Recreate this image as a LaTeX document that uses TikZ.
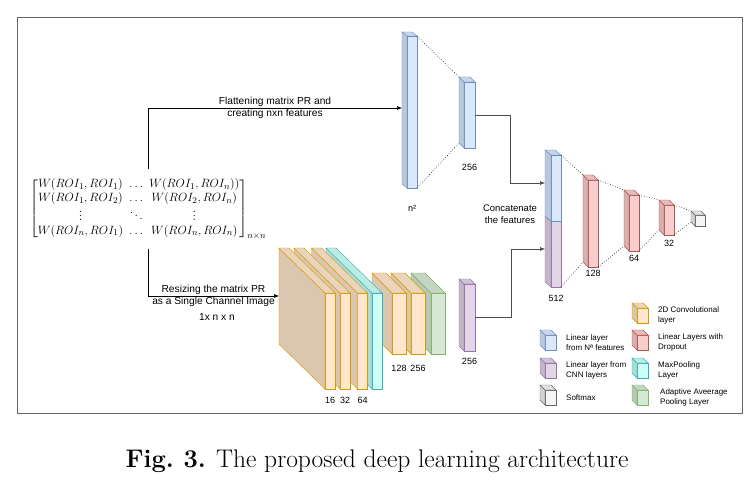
\documentclass[tikz,border=0pt]{standalone}
\usepackage{amsmath}
\usepackage{fontspec}
\usepackage{tikz}
\usetikzlibrary{positioning,arrows.meta}
\newfontfamily\drawfont{Liberation Sans}

\definecolor{convF}{HTML}{FFE6CC}
\definecolor{convD}{HTML}{D79B00}
\definecolor{poolF}{HTML}{CCFFF5}
\definecolor{poolD}{HTML}{2FB3C0}
\definecolor{blueF}{HTML}{DAE8FC}
\definecolor{blueD}{HTML}{6C8EBF}
\definecolor{purpF}{HTML}{E1D5E7}
\definecolor{purpD}{HTML}{9673A6}
\definecolor{redF}{HTML}{F8CECC}
\definecolor{redD}{HTML}{B85450}
\definecolor{greenF}{HTML}{D5E8D4}
\definecolor{greenD}{HTML}{82B366}
\definecolor{grayF}{HTML}{F5F5F5}
\definecolor{grayD}{HTML}{666666}

% \layercube{name}{x}{y}{width}{height}{depth x}{depth y}{colour}
\newcommand{\layercube}[8]{%
  \node[facebox, draw=#8D, fill=#8F, minimum width=#4pt, minimum height=#5pt] (#1) at (#2,#3) {};
  \filldraw[draw=#8D, fill=#8F!86!black] (#1.north west) -- ++(-#6,-#7) -- ++(0,#5) -- (#1.south west) -- cycle;
  \filldraw[draw=#8D, fill=#8F!92!black] (#1.north west) -- ++(-#6,-#7) -- ++(#4,0) -- (#1.north east) -- cycle;
  \path (#1.west) ++(-#6,-#7) coordinate (#1-bw);
  \path (#1.north west) ++(-#6,-#7) coordinate (#1-btl);
  \path (#1.south west) ++(-#6,-#7) coordinate (#1-bbl);
}

\begin{document}
\begin{tikzpicture}[x=1pt, y=-1pt,
    facebox/.style={rectangle, inner sep=0pt, outer sep=0pt, line width=0.6pt},
    lbl/.style={font=\drawfont\fontsize{9.5}{11.5}\selectfont, inner sep=1pt},
    arrlbl/.style={font=\drawfont\fontsize{10.2}{11.5}\selectfont, inner sep=1pt, align=center},
    numlbl/.style={font=\drawfont\fontsize{9}{11}\selectfont, inner sep=1pt, text height=6.5pt, text depth=0pt},
    legtext/.style={font=\drawfont\fontsize{8}{10}\selectfont, align=left, inner sep=1pt},
    mainarrow/.style={-{Latex[length=5pt,width=4pt]}, line width=0.6pt, black},
    pathline/.style={-{Latex[length=5pt,width=4pt]}, line width=0.6pt, black!70},
    dotline/.style={dotted, line width=0.6pt},
    outerbox/.style={draw=black!60, line width=0.8pt}]
    \useasboundingbox (0,0) rectangle (754,481);
    \draw[outerbox] (17,17) rectangle (742,413);

    % input matrix
    \node[font=\fontsize{12.5}{13.5}\selectfont, inner sep=9pt] (mat) at (148,209) {\setlength{\arraycolsep}{3pt}$\begin{bmatrix}
        W(ROI_1,ROI_1) & \ldots & W(ROI_1,ROI_n)) \\
        W(ROI_1,ROI_2) & \ldots & W(ROI_2,ROI_n) \\
        \vdots & \ddots & \vdots \\
        W(ROI_n,ROI_1) & \ldots & W(ROI_n,ROI_n)
      \end{bmatrix}_{n\times n}$};

    % flattened branch
    \layercube{sq}{412}{112}{10}{152}{5}{4}{blue}
    \layercube{fcA}{469.5}{115}{11}{66}{5}{5}{blue}

    % convolutional branch
    \layercube{gap}{438}{323.5}{14}{61}{20}{20}{green}
    \layercube{c256}{418}{323.5}{14}{61}{20}{20}{conv}
    \layercube{c128}{399}{323.5}{14}{61}{20}{20}{conv}
    \layercube{pool}{377}{341}{10}{96}{46}{45}{pool}
    \layercube{c64}{362.5}{341}{10}{96}{46}{45}{conv}
    \layercube{c32}{345}{341}{10}{96}{46}{45}{conv}
    \layercube{c16}{330}{341}{10}{96}{46}{45}{conv}
    \layercube{fcB}{469.5}{317.5}{11}{67}{5}{5}{purp}

    % concatenation and classifier
    \layercube{catB}{556}{254}{10}{66}{6}{5}{purp}
    \layercube{catA}{556}{188}{10}{66}{6}{5}{blue}
    \layercube{red1}{593}{223.5}{10}{87}{5}{5}{red}
    \layercube{red2}{634}{223}{10}{56}{5}{5}{red}
    \layercube{red3}{669}{220}{10}{30}{5}{5}{red}
    \layercube{soft}{700}{220.5}{10}{11}{4}{4}{gray}

    \draw[dotline] (sq.north east) -- (fcA-btl);
    \draw[dotline] (sq.south east) -- (fcA-bbl);
    \draw[dotline] (catA.north east) -- (red1-btl);
    \draw[dotline] (catB.south east) -- (red1-bbl);
    \draw[dotline] (red1.north east) -- (red2-btl);
    \draw[dotline] (red1.south east) -- (red2-bbl);
    \draw[dotline] (red2.north east) -- (red3-btl);
    \draw[dotline] (red2.south east) -- (red3-bbl);
    \draw[dotline] (red3.north east) -- (soft-btl);
    \draw[dotline] (red3.south east) -- (soft-bbl);

    \draw[mainarrow] (mat.north) |- node[arrlbl, pos=0.75] {Flattening matrix PR and\\creating nxn features} (sq-bw);
    \draw[mainarrow] (mat.south) |- node[arrlbl, pos=0.75] {Resizing the matrix PR\\as a Single Channel Image} (c16-bw);
    \draw[pathline] (fcA.east) -- ++(35,0) |- (catA-bw);
    \draw[pathline] (fcB.east) -- ++(36,0) |- (catB-bw);

    \node[arrlbl] (sizelbl) at (217,317) {1x n x n};
    \node[lbl, align=center] (catlbl) at (510,214) {Concatenate\\the features};

    \node[numlbl, below=16pt of sq] (sqnum) {n²};
    \node[numlbl, below=15pt of fcA] (fcAnum) {256};
    \node[numlbl, below=6pt of fcB] (fcBnum) {256};
    \node[numlbl, below=7pt of catB] (catnum) {512};
    \node[numlbl, below=2pt of red1] (red1num) {128};
    \node[numlbl, below=3pt of red2] (red2num) {64};
    \node[numlbl, below=4pt of red3] (red3num) {32};
    \node[numlbl, below=7pt of c16] (c16num) {16};
    \node[numlbl, below=7pt of c32] (c32num) {32};
    \node[numlbl, below=7pt of c64] (c64num) {64};
    \node[numlbl, below=10pt of c128] (c128num) {128};
    \node[numlbl, below=10pt of c256] (c256num) {256};

    % legend
    \layercube{lgConv}{642.5}{315.5}{11}{15}{5}{5}{conv}
    \layercube{lgBlue}{550.5}{342.5}{11}{15}{5}{5}{blue}
    \layercube{lgRed}{642.5}{342.5}{11}{15}{5}{5}{red}
    \layercube{lgPurp}{550.5}{370.5}{11}{15}{5}{5}{purp}
    \layercube{lgPool}{642.5}{370.5}{11}{15}{5}{5}{pool}
    \layercube{lgGray}{550.5}{397.5}{11}{15}{5}{5}{gray}
    \layercube{lgGreen}{642.5}{397.5}{11}{15}{5}{5}{green}
    \node[legtext, right=9pt of lgConv] (txConv) {2D Convolutional\\layer};
    \node[legtext, right=9pt of lgBlue] (txBlue) {Linear layer\\from Nª features};
    \node[legtext, right=9pt of lgRed] (txRed) {Linear Layers with\\Dropout};
    \node[legtext, right=9pt of lgPurp] (txPurp) {Linear layer from\\CNN layers};
    \node[legtext, right=9pt of lgPool] (txPool) {MaxPooling\\Layer};
    \node[legtext, right=9pt of lgGray] (txGray) {Softmax};
    \node[legtext, right=11pt of lgGreen] (txGreen) {Adaptive Aveerage\\Pooling Layer};

    \node[font=\fontsize{25.5}{30}\selectfont] (caption) at (377,461) {\textbf{Fig.\ 3.} The proposed deep learning architecture};
\end{tikzpicture}
\end{document}
